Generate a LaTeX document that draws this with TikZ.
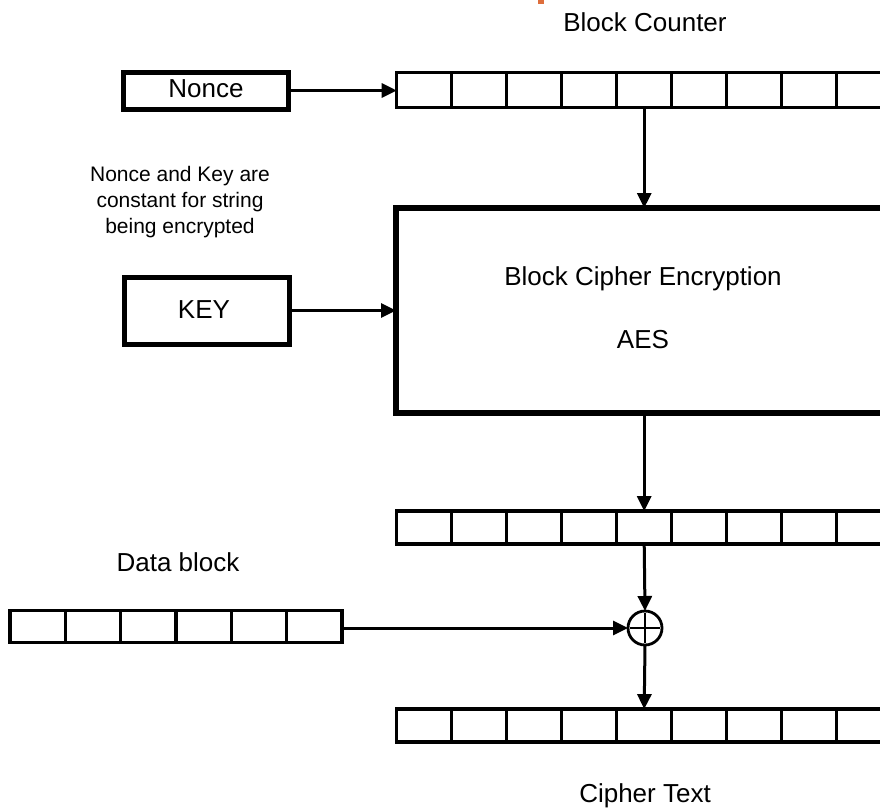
\documentclass[tikz,border=0pt]{standalone}
\usepackage{fontspec}
\setmainfont{Liberation Sans}
\usetikzlibrary{arrows.meta}
\definecolor{accent}{RGB}{222,110,60}
\begin{document}
\begin{tikzpicture}[x=1pt,y=-1pt,
  lbl/.style={font=\fontsize{26}{31}\selectfont, anchor=base, inner sep=0},
  note/.style={font=\fontsize{21}{25.7}\selectfont, align=center, inner sep=0},
  reg/.style={draw, line width=3.5pt, rectangle, inner sep=0, outer sep=0},
  cell/.style={line width=3.5pt},
  box/.style={draw, line width=5pt, rectangle, inner sep=0, outer sep=0},
  conn/.style={line width=3pt, -{Triangle[length=15pt,width=14pt]}}]
\useasboundingbox (0,0) rectangle (880,807);
% small orange mark at the top edge
\fill[accent] (538,0) rectangle (544,4);

% registers
\node[reg, minimum width=495pt, minimum height=35pt] (ctr) at (644.2,89.8) {};
\node[reg, minimum width=495pt, minimum height=33pt] (enc) at (644.2,527.6) {};
\node[reg, minimum width=495pt, minimum height=33pt] (ct)  at (644.2,725.6) {};
\node[reg, minimum width=332pt, minimum height=32pt] (data) at (176,626.5) {};
\foreach \r in {ctr,enc,ct}{
  \foreach \i in {1,...,8}
    \draw[cell] ([xshift=\i*55pt]\r.north west) -- ([xshift=\i*55pt]\r.south west);
}
\foreach \i in {1,...,5}
  \draw[cell] ([xshift=\i*55.33pt]data.north west) -- ([xshift=\i*55.33pt]data.south west);

% boxes
\node[box, minimum width=165pt, minimum height=37pt] (nonce) at (205.5,90.5) {};
\node[box, minimum width=165pt, minimum height=67pt] (key) at (206.5,310.5) {};
\node[box, line width=5.5pt, minimum width=504pt, minimum height=205pt] (aes) at (648,310.5) {};

% xor
\node[circle, draw, line width=2.8pt, minimum size=34pt, inner sep=0, outer sep=0] (xor) at (645,628) {};
\draw[line width=2.8pt] ([xshift=-15pt]xor.center) -- ([xshift=15pt]xor.center);
\draw[line width=2.8pt] ([yshift=-15pt]xor.center) -- ([yshift=15pt]xor.center);

% texts
\node[lbl] (tbc) at (645,31.7) {Block Counter};
\node[lbl] (tnonce) at (206,97.3) {Nonce};
\node[lbl] (tkey) at (204,318) {KEY};
\node[lbl] (tbce) at (643,285.7) {Block Cipher Encryption};
\node[lbl] (taes) at (643,348) {AES};
\node[lbl] (tdata) at (178,571) {Data block};
\node[lbl] (tct) at (645,802) {Cipher Text};
\node[note] (tnote) at (180,202) {Nonce and Key are\\constant for string\\being encrypted};

% connectors
\draw[conn] (nonce.east) -- (nonce.east -| ctr.west);
\draw[conn] (key.east) -- (key.east -| aes.west);
\draw[conn] (ctr.south) -- (ctr.south |- aes.north);
\draw[conn] (ctr.south |- aes.south) -- (enc.north);
\draw[conn] (enc.south) -- (xor.north);
\draw[conn] (xor.south) -- (ct.north);
\draw[conn] (xor.west -| data.east) -- (xor.west);
\end{tikzpicture}
\end{document}
